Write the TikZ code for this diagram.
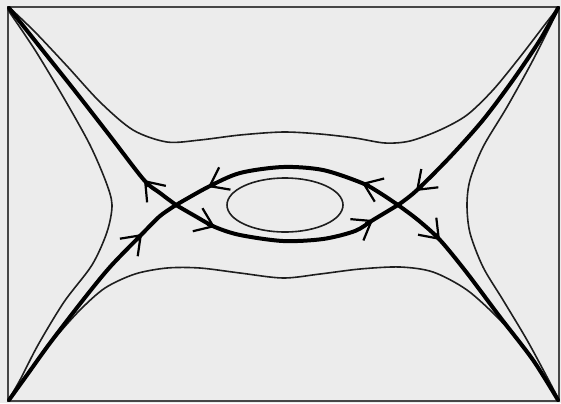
\documentclass[tikz,border=0pt]{standalone}
\usetikzlibrary{arrows.meta}
\definecolor{bgc}{RGB}{236,236,236}
\definecolor{thinc}{RGB}{30,30,30}
\definecolor{framec}{RGB}{70,70,70}
\tikzset{
  flowtip/.tip={Straight Barb[length=8.5pt,width=12.5pt,line width=1.1pt]},
  orbit/.style={line width=0.8pt, draw=thinc, line cap=round},
  sepx/.style={line width=2pt, draw=black, line cap=round},
  tipline/.style={line width=2pt, draw=black, -{flowtip}},
}
\begin{document}
\begin{tikzpicture}[x=0.5pt,y=-0.5pt]
  \fill[bgc] (0,0) rectangle (561,403);
  \useasboundingbox (0,0) rectangle (561,403);
  \draw[framec, line width=0.8pt] (8,7) rectangle (559,401);

  \coordinate (L) at (176,205);
  \coordinate (R) at (398,205);

  % thin orbits
  \draw[orbit] plot[smooth] coordinates {(10,8) (35,32) (67,66) (100,102) (133,130) (167,142) (200,140) (240,135) (283,132) (320,134) (355,138) (385,143) (410,141) (440,130) (467,115) (493,90) (520,57) (543,27) (557,9)};
  \draw[orbit] plot[smooth] coordinates {(10,399) (30,370) (55,338) (80,310) (105,288) (135,274) (167,268) (200,268) (240,273) (283,278) (320,274) (360,269) (400,267) (433,272) (467,290) (500,320) (527,352) (547,380) (558,399)};
  \draw[orbit] plot[smooth] coordinates {(8,10) (35,50) (65,100) (90,145) (106,182) (112,205) (107,232) (92,265) (64,302) (38,345) (20,380) (9,399)};
  \draw[orbit] plot[smooth] coordinates {(558,10) (533,60) (507,107) (483,147) (470,180) (467,205) (470,233) (483,267) (503,300) (527,340) (547,377) (558,398)};
  \draw[orbit] (285,205) ellipse [x radius=58, y radius=27];

  % separatrices
  \draw[sepx] plot[smooth] coordinates {(L) (160,193) (144,180) (110,136) (75,91) (40,47) (9,8)};
  \draw[sepx] plot[smooth] coordinates {(L) (160,216) (142,234) (110,267) (83,300) (50,343) (27,375) (9,400)};
  \draw[sepx] plot[smooth] coordinates {(R) (416,191) (450,157) (483,120) (513,80) (540,40) (558,8)};
  \draw[sepx] plot[smooth] coordinates {(R) (418,220) (440,240) (467,273) (500,317) (533,360) (558,400)};

  % heteroclinic orbits
  \draw[sepx] plot[smooth] coordinates {(R) (380,193) (362,183) (323,170) (283,167) (240,173) (208,187) (L)};
  \draw[sepx] plot[smooth] coordinates {(L) (195,216) (215,227) (240,235) (283,241) (323,239) (355,231) (373,220) (R)};

  % flow arrows
  \coordinate (t1) at (144,180); \coordinate (s1) at (149.3,186);
  \coordinate (t2) at (142,234); \coordinate (s2) at (136.4,239.7);
  \coordinate (t3) at (416,191); \coordinate (s3) at (421.8,185.6);
  \coordinate (t4) at (440,240); \coordinate (s4) at (434.6,234.2);
  \coordinate (t5) at (362,183); \coordinate (s5) at (369.4,186);
  \coordinate (t6) at (208,187); \coordinate (s6) at (215.1,183.4);
  \coordinate (t7) at (215,227); \coordinate (s7) at (207.6,223.9);
  \coordinate (t8) at (373,220); \coordinate (s8) at (366.1,224.2);
  \foreach \i in {1,...,8} { \draw[tipline] (s\i) -- (t\i); }
\end{tikzpicture}
\end{document}
